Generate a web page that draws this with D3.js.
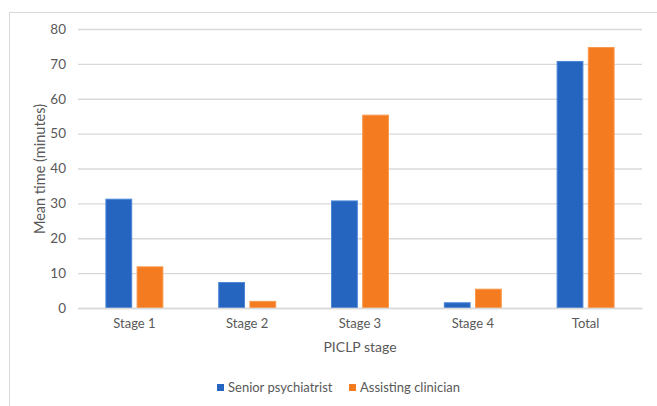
<!DOCTYPE html>
<html>
<head>
<meta charset="utf-8">
<script src="https://cdn.jsdelivr.net/npm/d3@7"></script>
<style>
  html, body { margin: 0; padding: 0; background: #fff; }
  svg { display: block; }
  text { font-family: Lato, "Open Sans", sans-serif; fill: #595959; }
</style>
</head>
<body>
<svg id="chart" width="657" height="406"></svg>
<script>
// Mean time spent on each PICLP stage, by clinician role
const categories = ["Stage 1", "Stage 2", "Stage 3", "Stage 4", "Total"];
const seriesNames = ["Senior psychiatrist", "Assisting clinician"];
const seniorPsychiatrist = [31.2, 7.3, 30.7, 1.5, 70.7];
const assistingClinician = [11.8, 1.9, 55.3, 5.4, 74.7];
const yTicks = [0, 10, 20, 30, 40, 50, 60, 70, 80];

const colors = ["#2565BF", "#F47B20"];
const strokes = ["#4A86D8", "#F89A50"];

const rows = categories.map((c, i) => ({
  category: c,
  values: [seniorPsychiatrist[i], assistingClinician[i]]
}));

const svg = d3.select("#chart");
const plot = { left: 78, right: 642, top: 29, bottom: 308 };

// Chart frame
svg.append("rect")
  .attr("x", 9.5).attr("y", 12.5)
  .attr("width", 660).attr("height", 410)
  .attr("fill", "none").attr("stroke", "#d9d9d9").attr("stroke-width", 1);

const x = d3.scaleBand()
  .domain(categories)
  .range([plot.left, plot.right])
  .paddingInner(0.486).paddingOuter(0.243);

const xInner = d3.scaleBand()
  .domain([0, 1])
  .range([0, x.bandwidth()])
  .paddingInner(0.14);

const y = d3.scaleLinear().domain([0, 80]).range([plot.bottom, plot.top]);

// Gridlines and y labels
const yAxis = d3.axisLeft(y)
  .tickValues(yTicks)
  .tickSize(-(plot.right - plot.left))
  .tickPadding(12);

const gy = svg.append("g")
  .attr("transform", `translate(${plot.left},0)`)
  .call(yAxis);
gy.select(".domain").remove();
gy.selectAll(".tick line").attr("stroke", "#d9d9d9").attr("stroke-width", 1.3);
gy.selectAll(".tick text").attr("font-size", 13.5).attr("fill", "#595959");

// Bars
const groups = svg.append("g").selectAll("g")
  .data(rows).join("g")
  .attr("transform", d => `translate(${x(d.category)},0)`);

groups.selectAll("rect")
  .data(d => d.values.map((v, k) => ({ v, k })))
  .join("rect")
  .attr("x", d => xInner(d.k) + 0.5)
  .attr("y", d => y(d.v))
  .attr("width", xInner.bandwidth() - 1)
  .attr("height", d => y(0) - y(d.v))
  .attr("fill", d => colors[d.k])
  .attr("stroke", d => strokes[d.k])
  .attr("stroke-width", 1);

// X axis
const xAxis = d3.axisBottom(x).tickSize(0).tickPadding(11);
const gx = svg.append("g")
  .attr("transform", `translate(0,${plot.bottom})`)
  .call(xAxis);
gx.select(".domain").attr("stroke", "#d9d9d9").attr("stroke-width", 1.3);
gx.selectAll(".tick text").attr("font-size", 13).attr("fill", "#595959");

// Axis titles
svg.append("text")
  .attr("x", 360).attr("y", 352)
  .attr("text-anchor", "middle")
  .attr("font-size", 14)
  .text("PICLP stage");

svg.append("text")
  .attr("transform", `translate(45,169) rotate(-90)`)
  .attr("text-anchor", "middle")
  .attr("font-size", 14.5)
  .text("Mean time (minutes)");

// Legend
const legendX = [217, 349];
const legend = svg.append("g").selectAll("g")
  .data(seriesNames).join("g")
  .attr("transform", (d, i) => `translate(${legendX[i]},384)`);
legend.append("rect")
  .attr("width", 7).attr("height", 7)
  .attr("fill", (d, i) => colors[i]);
legend.append("text")
  .attr("x", 11).attr("y", 8)
  .attr("font-size", 13)
  .text(d => d);
</script>
</body>
</html>
